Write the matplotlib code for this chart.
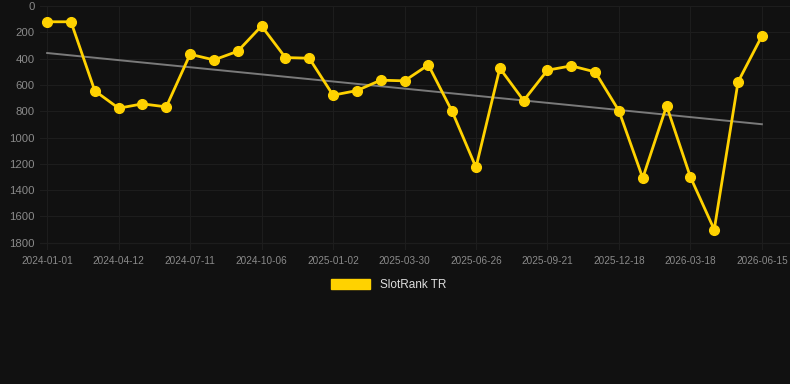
# SlotRank TR rank history chart
import numpy as np
import matplotlib
matplotlib.use("Agg")
import matplotlib.pyplot as plt

# data
tick_labels = ["2024-01-01", "2024-04-12", "2024-07-11", "2024-10-06", "2025-01-02",
               "2025-03-30", "2025-06-26", "2025-09-21", "2025-12-18", "2026-03-18",
               "2026-06-15"]
rank_values = [120, 120, 645, 777, 744, 767, 367, 410, 344, 152,
               392, 397, 678, 643, 564, 569, 448, 802, 1227, 473,
               719, 488, 455, 501, 797, 1308, 759, 1300, 1700, 577, 228]
series_name = "SlotRank TR"

bg = "#111111"
plt.rcParams['font.family'] = ['Liberation Sans', 'DejaVu Sans']

fig = plt.figure(figsize=(7.9, 3.84), dpi=100, facecolor=bg)
ax = fig.add_axes([40/790, 1 - 250/384, 750/790, 244/384])
ax.set_facecolor(bg)

x = np.arange(len(rank_values))

# trend line (least squares fit)
k, b = np.polyfit(x, rank_values, 1)
ax.plot(x, k * x + b, color="#7a7a7a", lw=1.4, zorder=2)

ax.plot(x, rank_values, color="#FFD200", lw=2.0, marker="o", markersize=7,
        markerfacecolor="#FFD200", markeredgecolor="#FFD200", zorder=3,
        label=series_name)

ax.set_ylim(1855, 0)
ax.set_yticks(range(0, 1801, 200))
ax.set_xlim(-0.3, len(rank_values) - 1 + 1.18)
ax.set_xticks(x[::3])
ax.set_xticklabels(tick_labels)

ax.grid(True, color="#1d1d1d", lw=0.8)
ax.axhline(1800, color="#2a2a2a", lw=0.8, zorder=1)
for s in ax.spines.values():
    s.set_visible(False)
ax.tick_params(axis="both", length=0, colors="#8a8a8a")
ax.tick_params(axis="y", labelsize=8.2, pad=4)
ax.tick_params(axis="x", labelsize=7.2, pad=4)

leg = fig.legend(loc="center", bbox_to_anchor=(0.492, 1 - 285/384), frameon=False,
                 handlelength=3.3, handleheight=0.9, fontsize=8.5,
                 labelcolor="#dddddd",
                 handles=[matplotlib.patches.Patch(color="#FFD200", label=series_name)])

fig.savefig("out.png", dpi=100, facecolor=bg)
